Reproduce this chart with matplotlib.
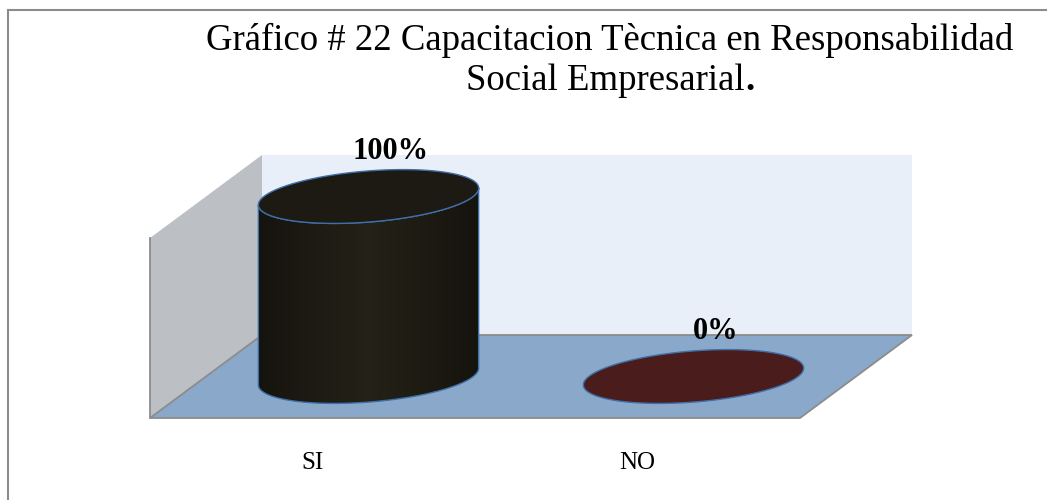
"""Pseudo-3D cylinder chart: Capacitacion Tecnica en RSE."""

import matplotlib

matplotlib.use("Agg")
import matplotlib.pyplot as plt
import numpy as np
from matplotlib.colors import LinearSegmentedColormap
from matplotlib.patches import Polygon
from matplotlib.transforms import Affine2D, IdentityTransform

# data
categories = ["SI", "NO"]
values = [100, 0]
value_labels = ["100%", "0%"]
series_colors = ["#1c1a12", "#4a1c1c"]
title_line1 = "Gráfico # 22 Capacitacion Tècnica en Responsabilidad"
title_line2 = "Social Empresarial"

# layout (pixels, figure is drawn at dpi 100)
W, H = 1047, 500
DEPTH_DX, DEPTH_DY = 112, 83  # shift from back plane to front plane
BAR_WIDTH = 0.68  # in category units
ELL_RY = 25.5
ELL_ANGLE = np.deg2rad(4.6)
EDGE_GRAY = "#8c8c8c"
EDGE_BLUE = "#3f6fa8"

plt.rcParams["font.family"] = ["Liberation Serif", "DejaVu Serif"]

fig = plt.figure(figsize=(W / 100, H / 100), dpi=100)
ax = fig.add_axes([262 / W, 165 / H, 650 / W, 180 / H])
ax.set_xlim(-0.5, len(categories) - 0.5)
ax.set_ylim(0, 100)
ax.axis("off")

back = ax.transData
mid = ax.transData + Affine2D().translate(-DEPTH_DX / 2, -DEPTH_DY / 2)
front = ax.transData + Affine2D().translate(-DEPTH_DX, -DEPTH_DY)
ident = IdentityTransform()

x0, x1 = ax.get_xlim()
y0, y1 = ax.get_ylim()


def add_poly(pts, z, **kw):
    p = Polygon(pts, closed=True, transform=ident, clip_on=False, zorder=z, **kw)
    ax.add_patch(p)
    return p


# walls and floor
add_poly(back.transform([(x0, y0), (x1, y0), (x1, y1), (x0, y1)]), 0.1,
         facecolor="#e9eff8", edgecolor="none")
add_poly(np.vstack([front.transform([(x0, y0), (x0, y1)]),
                    back.transform([(x0, y1), (x0, y0)])]), 0.2,
         facecolor="#bcc0c4", edgecolor="none")
floor = np.vstack([front.transform([(x0, y0), (x1, y0)]),
                   back.transform([(x1, y0), (x0, y0)])])
add_poly(floor, 0.3, facecolor="#8aa8c9", edgecolor=EDGE_GRAY, linewidth=1.3)
fl = front.transform([(x0, y0), (x0, y1)])
ax.plot(fl[:, 0], fl[:, 1], color=EDGE_GRAY, lw=1.3, transform=ident,
        clip_on=False, zorder=0.4)


def ellipse_pts(c, rx, t):
    ca, sa = np.cos(ELL_ANGLE), np.sin(ELL_ANGLE)
    ex, ey = rx * np.cos(t), ELL_RY * np.sin(t)
    return np.column_stack([c[0] + ex * ca - ey * sa, c[1] + ex * sa + ey * ca])


def shade(hex_color):
    rgb = np.array(matplotlib.colors.to_rgb(hex_color))
    return [rgb * 0.75, np.minimum(rgb * 1.3, 1), rgb * 0.75]


for i, (val, col) in enumerate(zip(values, series_colors)):
    cb = mid.transform((i, 0))
    ct = mid.transform((i, val))
    rx = (mid.transform((i + BAR_WIDTH / 2, 0)) - cb)[0]
    t_low = np.linspace(np.pi, 2 * np.pi, 120)
    if val > 0:
        body_pts = np.vstack([ellipse_pts(cb, rx, t_low),
                              ellipse_pts(ct, rx, t_low[::-1])])
        body = add_poly(body_pts, 2, facecolor=col, edgecolor="none")
        cmap = LinearSegmentedColormap.from_list("cyl", shade(col))
        im = ax.imshow(np.linspace(0, 1, 200)[None, :], cmap=cmap, aspect="auto",
                       extent=(cb[0] - rx, cb[0] + rx, cb[1] - 40, ct[1] + 40),
                       transform=ident, interpolation="bilinear", zorder=2.1)
        im.set_clip_box(fig.bbox)
        im.set_clip_path(body)
        add_poly(body_pts, 2.2, facecolor="none", edgecolor=EDGE_BLUE, linewidth=1.0)
    add_poly(ellipse_pts(ct, rx, np.linspace(0, 2 * np.pi, 240)), 3,
             facecolor=col, edgecolor=EDGE_BLUE, linewidth=1.0)
    # value label above the cylinder top
    ax.text(ct[0] + 22, ct[1] + ELL_RY + 12, value_labels[i], transform=ident,
            ha="center", va="baseline", fontsize=22, fontweight="bold", zorder=4)
    # category label under the front edge
    cf = front.transform((i, 0))
    ax.text(cf[0], cf[1] - 51, categories[i], transform=ident,
            ha="center", va="baseline", fontsize=18)

# title
fig.text(610 / W, 1 - 50 / H, title_line1, ha="center", va="baseline", fontsize=26.5)
fig.text(745 / W, 1 - 90 / H, title_line2, ha="right", va="baseline", fontsize=26.5)
fig.text(745 / W, 1 - 90 / H, ".", ha="left", va="baseline", fontsize=26.5,
         fontweight="bold")

# frame lines (top and left only)
fig.add_artist(plt.Line2D([8 / W, 1], [1 - 10 / H, 1 - 10 / H], color=EDGE_GRAY, lw=1.5))
fig.add_artist(plt.Line2D([8 / W, 8 / W], [0, 1 - 10 / H], color=EDGE_GRAY, lw=1.5))

fig.savefig("out.png", dpi=100)
plt.close(fig)
